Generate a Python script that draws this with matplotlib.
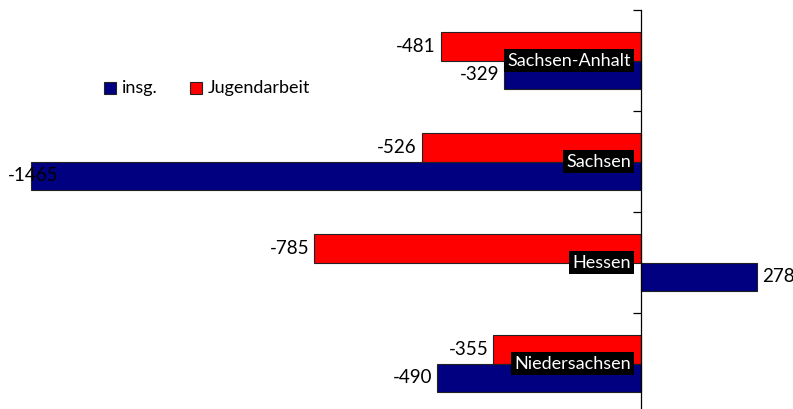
import matplotlib
matplotlib.use("Agg")
import matplotlib.pyplot as plt
from matplotlib.patches import Rectangle

plt.rcParams['font.family'] = ['Lato', 'DejaVu Sans']

laender = ['Sachsen-Anhalt', 'Sachsen', 'Hessen', 'Niedersachsen']
jugendarbeit = [-481, -526, -785, -355]
insg = [-329, -1465, 278, -490]

c_insg = '#000080'
c_jugend = '#ff0000'

fig = plt.figure(figsize=(7.93, 4.09), dpi=100)
ax = fig.add_axes([0, 0, 1, (409 - 10) / 409])

h = 0.287
y = list(range(len(laender)))
ax.barh([i - h / 2 for i in y], jugendarbeit, height=h, color=c_jugend,
        edgecolor='#222222', linewidth=0.8, zorder=2)
ax.barh([i + h / 2 for i in y], insg, height=h, color=c_insg,
        edgecolor='#222222', linewidth=0.8, zorder=2)

xmin, xmax = -641 / 0.4164, 152 / 0.4164
ax.set_xlim(xmin, xmax)
ax.set_ylim(-0.5 + 399 / 101, -0.5)

pad = 12
for i in y:
    for v, off in ((jugendarbeit[i], -h / 2), (insg[i], h / 2)):
        if v < 0:
            x = v - pad
            ha = 'right'
            if v < -1400:
                x, ha = xmin + 20, 'left'
        else:
            x, ha = v + pad, 'left'
        ax.text(x, i + off, str(v), ha=ha, va='center', fontsize=13.5,
                color='black', zorder=4)
    ax.text(-24, i, laender[i], ha='right', va='center', fontsize=13,
            color='white', zorder=5,
            bbox=dict(facecolor='black', edgecolor='none', pad=2.2))

for s in ('top', 'right', 'bottom'):
    ax.spines[s].set_visible(False)
ax.spines['left'].set_position(('data', 0))
ax.spines['left'].set_linewidth(0.9)
ax.set_xticks([])
ax.set_yticks([-0.5, 0.5, 1.5, 2.5])
ax.set_yticklabels([])
ax.tick_params(axis='y', direction='out', length=6, width=0.9)

# legend
lg = fig.add_axes([0, 0, 1, 1])
lg.set_xlim(0, 793)
lg.set_ylim(409, 0)
lg.axis('off')
lg.patch.set_alpha(0)
lg.add_patch(Rectangle((104, 82), 12, 12, facecolor=c_insg, edgecolor='#222222', lw=0.8))
lg.text(122, 88.5, 'insg.', ha='left', va='center', fontsize=13)
lg.add_patch(Rectangle((190, 82), 12, 12, facecolor=c_jugend, edgecolor='#222222', lw=0.8))
lg.text(208, 88.5, 'Jugendarbeit', ha='left', va='center', fontsize=13)

fig.savefig('out.png', dpi=100)
